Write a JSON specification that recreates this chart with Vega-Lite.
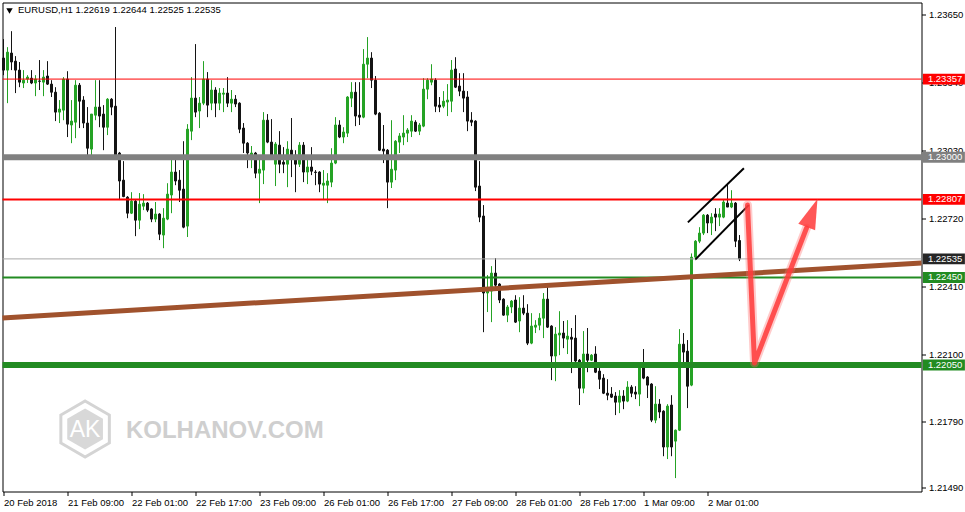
{
"$schema":"https://vega.github.io/schema/vega-lite/v6.json",
"width":919,"height":489,
"autosize":{"type":"none"},
"padding":{"left":2.5,"top":2.5,"right":43.5,"bottom":20.5},
"background":"white",
"config":{"view":{"stroke":"#000","strokeWidth":1},"font":"Liberation Sans"},
"datasets":{
"candles":[
{"i":0,"o":1.23453,"h":1.2354,"l":1.23375,"c":1.23398},
{"i":1,"o":1.23398,"h":1.23503,"l":1.23247,"c":1.2348},
{"i":2,"o":1.23476,"h":1.23576,"l":1.23398,"c":1.23435},
{"i":3,"o":1.23439,"h":1.23462,"l":1.23293,"c":1.23398},
{"i":4,"o":1.23398,"h":1.23435,"l":1.2332,"c":1.23343},
{"i":5,"o":1.23339,"h":1.23398,"l":1.23316,"c":1.23352},
{"i":6,"o":1.23357,"h":1.23375,"l":1.23339,"c":1.23366},
{"i":7,"o":1.23361,"h":1.23398,"l":1.23334,"c":1.23339},
{"i":8,"o":1.23339,"h":1.23375,"l":1.23279,"c":1.23357},
{"i":9,"o":1.23348,"h":1.23444,"l":1.23307,"c":1.23347},
{"i":10,"o":1.23343,"h":1.23398,"l":1.23279,"c":1.23366},
{"i":11,"o":1.23371,"h":1.23439,"l":1.2333,"c":1.23334},
{"i":12,"o":1.23334,"h":1.23352,"l":1.23275,"c":1.23297},
{"i":13,"o":1.23297,"h":1.2332,"l":1.23165,"c":1.23206},
{"i":14,"o":1.23206,"h":1.23261,"l":1.23156,"c":1.2322},
{"i":15,"o":1.23215,"h":1.23366,"l":1.23169,"c":1.23357},
{"i":16,"o":1.23357,"h":1.23393,"l":1.23092,"c":1.23151},
{"i":17,"o":1.23147,"h":1.23261,"l":1.23064,"c":1.23165},
{"i":18,"o":1.2316,"h":1.23352,"l":1.23087,"c":1.23329},
{"i":19,"o":1.23329,"h":1.23339,"l":1.23133,"c":1.23256},
{"i":20,"o":1.23261,"h":1.23279,"l":1.23133,"c":1.23156},
{"i":21,"o":1.23156,"h":1.23229,"l":1.23009,"c":1.23041},
{"i":22,"o":1.23037,"h":1.23197,"l":1.23009,"c":1.23197},
{"i":23,"o":1.23192,"h":1.23352,"l":1.23169,"c":1.23229},
{"i":24,"o":1.23229,"h":1.23352,"l":1.23137,"c":1.23188},
{"i":25,"o":1.23197,"h":1.23238,"l":1.23032,"c":1.23137},
{"i":26,"o":1.23137,"h":1.2327,"l":1.23101,"c":1.23265},
{"i":27,"o":1.23265,"h":1.2327,"l":1.23192,"c":1.23229},
{"i":28,"o":1.23233,"h":1.23595,"l":1.22987,"c":1.23009},
{"i":29,"o":1.23019,"h":1.23024,"l":1.22804,"c":1.22891},
{"i":30,"o":1.22895,"h":1.22982,"l":1.22817,"c":1.2282},
{"i":31,"o":1.22817,"h":1.22822,"l":1.22721,"c":1.22744},
{"i":32,"o":1.22744,"h":1.2284,"l":1.2274,"c":1.22799},
{"i":33,"o":1.22799,"h":1.22804,"l":1.22639,"c":1.22712},
{"i":34,"o":1.22712,"h":1.22836,"l":1.22671,"c":1.22785},
{"i":35,"o":1.22776,"h":1.22831,"l":1.22758,"c":1.2279},
{"i":36,"o":1.2279,"h":1.22795,"l":1.22749,"c":1.22758},
{"i":37,"o":1.22763,"h":1.22767,"l":1.22703,"c":1.22717},
{"i":38,"o":1.22717,"h":1.22795,"l":1.22703,"c":1.2274},
{"i":39,"o":1.2274,"h":1.22744,"l":1.22621,"c":1.22648},
{"i":40,"o":1.22644,"h":1.22767,"l":1.22584,"c":1.22721},
{"i":41,"o":1.22717,"h":1.22881,"l":1.22712,"c":1.22831},
{"i":42,"o":1.22827,"h":1.22987,"l":1.22744,"c":1.22932},
{"i":43,"o":1.22932,"h":1.22987,"l":1.22872,"c":1.22891},
{"i":44,"o":1.22895,"h":1.22941,"l":1.22795,"c":1.22849},
{"i":45,"o":1.22854,"h":1.23073,"l":1.22675,"c":1.2268},
{"i":46,"o":1.22685,"h":1.23151,"l":1.22635,"c":1.23128},
{"i":47,"o":1.23119,"h":1.23366,"l":1.23078,"c":1.2327},
{"i":48,"o":1.2327,"h":1.23517,"l":1.23183,"c":1.23206},
{"i":49,"o":1.23211,"h":1.23275,"l":1.23133,"c":1.23247},
{"i":50,"o":1.23247,"h":1.23439,"l":1.23238,"c":1.23357},
{"i":51,"o":1.23357,"h":1.23389,"l":1.23183,"c":1.23238},
{"i":52,"o":1.23247,"h":1.23352,"l":1.23215,"c":1.23307},
{"i":53,"o":1.23307,"h":1.2332,"l":1.23183,"c":1.23247},
{"i":54,"o":1.23247,"h":1.23316,"l":1.23215,"c":1.23293},
{"i":55,"o":1.23288,"h":1.23316,"l":1.23206,"c":1.23293},
{"i":56,"o":1.23293,"h":1.23366,"l":1.23229,"c":1.23247},
{"i":57,"o":1.23247,"h":1.23307,"l":1.23206,"c":1.23265},
{"i":58,"o":1.23265,"h":1.23284,"l":1.23229,"c":1.23243},
{"i":59,"o":1.23247,"h":1.23251,"l":1.2311,"c":1.23128},
{"i":60,"o":1.23133,"h":1.23156,"l":1.23019,"c":1.23064},
{"i":61,"o":1.23064,"h":1.23069,"l":1.2295,"c":1.23019},
{"i":62,"o":1.23009,"h":1.23051,"l":1.2295,"c":1.23019},
{"i":63,"o":1.23019,"h":1.23024,"l":1.22904,"c":1.22927},
{"i":64,"o":1.22927,"h":1.22996,"l":1.2279,"c":1.22945},
{"i":65,"o":1.22941,"h":1.23206,"l":1.22877,"c":1.23169},
{"i":66,"o":1.23169,"h":1.23197,"l":1.23064,"c":1.23069},
{"i":67,"o":1.23069,"h":1.23174,"l":1.23,"c":1.23009},
{"i":68,"o":1.22968,"h":1.23069,"l":1.22868,"c":1.2306},
{"i":69,"o":1.23055,"h":1.23119,"l":1.22927,"c":1.22968},
{"i":70,"o":1.22977,"h":1.23046,"l":1.22927,"c":1.22968},
{"i":71,"o":1.22968,"h":1.23073,"l":1.22863,"c":1.23037},
{"i":72,"o":1.23032,"h":1.23179,"l":1.22909,"c":1.23009},
{"i":73,"o":1.23009,"h":1.23032,"l":1.2284,"c":1.22968},
{"i":74,"o":1.22968,"h":1.23069,"l":1.22955,"c":1.23055},
{"i":75,"o":1.23055,"h":1.23069,"l":1.22886,"c":1.22932},
{"i":76,"o":1.22932,"h":1.22987,"l":1.22877,"c":1.22955},
{"i":77,"o":1.22955,"h":1.23046,"l":1.22918,"c":1.22936},
{"i":78,"o":1.22932,"h":1.22941,"l":1.22872,"c":1.2293},
{"i":79,"o":1.22932,"h":1.22936,"l":1.2284,"c":1.22877},
{"i":80,"o":1.22872,"h":1.22941,"l":1.22804,"c":1.22881},
{"i":81,"o":1.22872,"h":1.22927,"l":1.2279,"c":1.22891},
{"i":82,"o":1.22886,"h":1.23041,"l":1.22863,"c":1.22973},
{"i":83,"o":1.22973,"h":1.23183,"l":1.22968,"c":1.23147},
{"i":84,"o":1.23147,"h":1.23169,"l":1.23087,"c":1.23092},
{"i":85,"o":1.23092,"h":1.23137,"l":1.23064,"c":1.23115},
{"i":86,"o":1.2311,"h":1.23279,"l":1.23092,"c":1.23275},
{"i":87,"o":1.2327,"h":1.23343,"l":1.23229,"c":1.23297},
{"i":88,"o":1.23297,"h":1.23343,"l":1.23142,"c":1.23188},
{"i":89,"o":1.23192,"h":1.23343,"l":1.23147,"c":1.23183},
{"i":90,"o":1.23183,"h":1.23494,"l":1.23178,"c":1.23425},
{"i":91,"o":1.23425,"h":1.23549,"l":1.23361,"c":1.23453},
{"i":92,"o":1.23453,"h":1.2348,"l":1.23316,"c":1.23352},
{"i":93,"o":1.23352,"h":1.23371,"l":1.23192,"c":1.23197},
{"i":94,"o":1.23201,"h":1.23206,"l":1.23028,"c":1.23032},
{"i":95,"o":1.23037,"h":1.23147,"l":1.22973,"c":1.23028},
{"i":96,"o":1.23032,"h":1.23037,"l":1.22767,"c":1.22886},
{"i":97,"o":1.22886,"h":1.23169,"l":1.22859,"c":1.22945},
{"i":98,"o":1.22941,"h":1.23078,"l":1.22895,"c":1.23073},
{"i":99,"o":1.23069,"h":1.2311,"l":1.23019,"c":1.23097},
{"i":100,"o":1.23092,"h":1.23192,"l":1.23055,"c":1.2311},
{"i":101,"o":1.2311,"h":1.23133,"l":1.23069,"c":1.23124},
{"i":102,"o":1.23119,"h":1.23192,"l":1.23092,"c":1.23165},
{"i":103,"o":1.2316,"h":1.23169,"l":1.23115,"c":1.23119},
{"i":104,"o":1.23119,"h":1.23156,"l":1.23101,"c":1.23147},
{"i":105,"o":1.23142,"h":1.23361,"l":1.23137,"c":1.23311},
{"i":106,"o":1.23311,"h":1.23361,"l":1.23265,"c":1.23352},
{"i":107,"o":1.23343,"h":1.23425,"l":1.23329,"c":1.23357},
{"i":108,"o":1.23352,"h":1.23361,"l":1.23206,"c":1.23233},
{"i":109,"o":1.23238,"h":1.23275,"l":1.23206,"c":1.23229},
{"i":110,"o":1.23233,"h":1.23302,"l":1.23224,"c":1.23256},
{"i":111,"o":1.23252,"h":1.23334,"l":1.23188,"c":1.23261},
{"i":112,"o":1.23256,"h":1.23444,"l":1.23206,"c":1.23398},
{"i":113,"o":1.23403,"h":1.23457,"l":1.23316,"c":1.2332},
{"i":114,"o":1.23325,"h":1.23384,"l":1.23279,"c":1.23302},
{"i":115,"o":1.23302,"h":1.23384,"l":1.23206,"c":1.2327},
{"i":116,"o":1.23275,"h":1.23302,"l":1.23119,"c":1.23165},
{"i":117,"o":1.23169,"h":1.23206,"l":1.23142,"c":1.2316},
{"i":118,"o":1.23165,"h":1.23169,"l":1.22845,"c":1.22863},
{"i":119,"o":1.22868,"h":1.22982,"l":1.22703,"c":1.22726},
{"i":120,"o":1.22731,"h":1.22781,"l":1.222,"c":1.22379},
{"i":121,"o":1.22379,"h":1.22461,"l":1.22292,"c":1.22392},
{"i":122,"o":1.22388,"h":1.22502,"l":1.22246,"c":1.2247},
{"i":123,"o":1.2247,"h":1.22539,"l":1.22406,"c":1.22415},
{"i":124,"o":1.2242,"h":1.22424,"l":1.22333,"c":1.22347},
{"i":125,"o":1.22351,"h":1.22355,"l":1.22275,"c":1.22278},
{"i":126,"o":1.22278,"h":1.22324,"l":1.22246,"c":1.22315},
{"i":127,"o":1.22315,"h":1.22347,"l":1.22287,"c":1.22342},
{"i":128,"o":1.22347,"h":1.22369,"l":1.22242,"c":1.22246},
{"i":129,"o":1.22251,"h":1.2236,"l":1.222,"c":1.2231},
{"i":130,"o":1.2231,"h":1.22369,"l":1.22278,"c":1.22287},
{"i":131,"o":1.22287,"h":1.22328,"l":1.22141,"c":1.2215},
{"i":132,"o":1.2215,"h":1.22287,"l":1.22145,"c":1.22228},
{"i":133,"o":1.22223,"h":1.22255,"l":1.22196,"c":1.22232},
{"i":134,"o":1.22232,"h":1.22287,"l":1.22209,"c":1.22264},
{"i":135,"o":1.22264,"h":1.22379,"l":1.22173,"c":1.22351},
{"i":136,"o":1.22351,"h":1.22406,"l":1.22219,"c":1.22223},
{"i":137,"o":1.22228,"h":1.22232,"l":1.21981,"c":1.22091},
{"i":138,"o":1.22091,"h":1.22223,"l":1.21976,"c":1.22191},
{"i":139,"o":1.22187,"h":1.22296,"l":1.22095,"c":1.22196},
{"i":140,"o":1.22196,"h":1.22251,"l":1.22127,"c":1.22173},
{"i":141,"o":1.22168,"h":1.22255,"l":1.221,"c":1.22182},
{"i":142,"o":1.22177,"h":1.22219,"l":1.22013,"c":1.22168},
{"i":143,"o":1.22173,"h":1.22278,"l":1.22063,"c":1.22068},
{"i":144,"o":1.22072,"h":1.22077,"l":1.21867,"c":1.21944},
{"i":145,"o":1.21944,"h":1.22205,"l":1.21921,"c":1.221},
{"i":146,"o":1.221,"h":1.22219,"l":1.22017,"c":1.22072},
{"i":147,"o":1.22072,"h":1.221,"l":1.22068,"c":1.22095},
{"i":148,"o":1.221,"h":1.22136,"l":1.22013,"c":1.22017},
{"i":149,"o":1.22022,"h":1.22049,"l":1.2194,"c":1.21985},
{"i":150,"o":1.2199,"h":1.22008,"l":1.21917,"c":1.21921},
{"i":151,"o":1.21921,"h":1.21985,"l":1.21889,"c":1.21912},
{"i":152,"o":1.21917,"h":1.21949,"l":1.21899,"c":1.21903},
{"i":153,"o":1.21908,"h":1.21926,"l":1.21821,"c":1.2188},
{"i":154,"o":1.2188,"h":1.21935,"l":1.2183,"c":1.21908},
{"i":155,"o":1.21908,"h":1.21935,"l":1.21848,"c":1.21885},
{"i":156,"o":1.21885,"h":1.21976,"l":1.2188,"c":1.21949},
{"i":157,"o":1.21949,"h":1.21958,"l":1.21903,"c":1.21921},
{"i":158,"o":1.21926,"h":1.21953,"l":1.21894,"c":1.21917},
{"i":159,"o":1.21917,"h":1.22059,"l":1.21862,"c":1.22045},
{"i":160,"o":1.2204,"h":1.22123,"l":1.21985,"c":1.2199},
{"i":161,"o":1.21995,"h":1.21999,"l":1.21899,"c":1.21958},
{"i":162,"o":1.21963,"h":1.21967,"l":1.21789,"c":1.21798},
{"i":163,"o":1.21798,"h":1.21953,"l":1.21784,"c":1.21871},
{"i":164,"o":1.21871,"h":1.21894,"l":1.21807,"c":1.21835},
{"i":165,"o":1.21839,"h":1.21843,"l":1.21633,"c":1.21675},
{"i":166,"o":1.21675,"h":1.21871,"l":1.2162,"c":1.21862},
{"i":167,"o":1.21867,"h":1.21912,"l":1.21633,"c":1.21675},
{"i":168,"o":1.21702,"h":1.21755,"l":1.21533,"c":1.21752},
{"i":169,"o":1.21752,"h":1.22214,"l":1.21748,"c":1.22145},
{"i":170,"o":1.22145,"h":1.22196,"l":1.2204,"c":1.22109},
{"i":171,"o":1.22113,"h":1.22164,"l":1.21853,"c":1.21953},
{"i":172,"o":1.21958,"h":1.2256,"l":1.21953,"c":1.22543},
{"i":173,"o":1.22543,"h":1.22621,"l":1.22529,"c":1.22616},
{"i":174,"o":1.22616,"h":1.2268,"l":1.22607,"c":1.22653},
{"i":175,"o":1.22653,"h":1.2274,"l":1.22644,"c":1.22735},
{"i":176,"o":1.22735,"h":1.2274,"l":1.22653,"c":1.22699},
{"i":177,"o":1.22699,"h":1.22744,"l":1.22644,"c":1.22726},
{"i":178,"o":1.2274,"h":1.22767,"l":1.22662,"c":1.22726},
{"i":179,"o":1.22726,"h":1.22767,"l":1.22685,"c":1.2274},
{"i":180,"o":1.22726,"h":1.22808,"l":1.22721,"c":1.22795},
{"i":181,"o":1.2279,"h":1.22881,"l":1.22772,"c":1.22772},
{"i":182,"o":1.22772,"h":1.22849,"l":1.22767,"c":1.2279},
{"i":183,"o":1.2279,"h":1.22795,"l":1.22589,"c":1.22616},
{"i":184,"o":1.22619,"h":1.22644,"l":1.22525,"c":1.22535}
],
"levels":[
{"name":"r2","p":1.23357},
{"name":"s0","p":1.23},
{"name":"r1","p":1.22807},
{"name":"cur","p":1.22535},
{"name":"s1","p":1.2245},
{"name":"s2","p":1.2205}
],
"trend":[{"i":-0.25,"p":1.22265},{"i":229.5,"p":1.22516}],
"channel":[{"g":"upper","i":171.1,"p":1.22702},{"g":"upper","i":185.1,"p":1.22949},{"g":"lower","i":173.0,"p":1.22533},{"g":"lower","i":186.3,"p":1.22781}],
"arrow":[{"k":0,"i":186,"p":1.22781},{"k":1,"i":187.75,"p":1.22059},{"k":2,"i":200.75,"p":1.22676}],
"arrowhead":[{"i":202.15,"p":1.22745}]
},
"layer":[
{"data":{"name":"candles"},"mark":{"type":"rule","strokeWidth":1},
"encoding":{
"x":{"field":"i","type":"quantitative","title":null,"scale":{"domain":[-0.25,229.5],"nice":false,"zero":false,"padding":0},
"axis":{"values":[0,16,32,48,64,80,96,112,128,144,160,176],
"labelExpr":"['20 Feb 2018','21 Feb 09:00','22 Feb 01:00','22 Feb 17:00','23 Feb 09:00','26 Feb 01:00','26 Feb 17:00','27 Feb 09:00','28 Feb 01:00','28 Feb 17:00','1 Mar 09:00','2 Mar 01:00'][round(datum.value/16)]",
"labelAlign":"left","labelFontSize":9.5,"labelColor":"#000","tickColor":"#000","tickSize":4,"labelPadding":2,"domain":false,"grid":false,"title":null,"labelFlush":false,"labelOverlap":false}},
"y":{"field":"l","type":"quantitative","title":null,"scale":{"domain":[1.2147169,1.237071],"nice":false,"zero":false,"padding":0},
"axis":{"orient":"right","values":[1.2365,1.23495,1.2334,1.23185,1.2303,1.22875,1.2272,1.22565,1.2241,1.22255,1.221,1.21945,1.2179,1.2164,1.2149],
"format":".5f","labelFontSize":9.5,"labelColor":"#000","tickColor":"#000","tickSize":4,"labelPadding":3,"domain":false,"grid":false,"title":null,"labelOverlap":false,"labelFlush":false}},
"y2":{"field":"h"},
"color":{"condition":{"test":"datum.c >= datum.o","value":"#25a325"},"value":"#141414"}}},
{"data":{"values":[{"n":1}]},"mark":{"type":"point","shape":"M0,-1L0.866,-0.5L0.866,0.5L0,1L-0.866,0.5L-0.866,-0.5Z","size":3136,"filled":false,"stroke":"#d4d4d4","strokeWidth":3,"opacity":1},
"encoding":{"x":{"datum":20.4,"type":"quantitative","title":null},"y":{"datum":1.217574,"type":"quantitative","title":null}}},
{"data":{"values":[{"n":1}]},"mark":{"type":"point","shape":"M0,-1L0.866,-0.5L0.866,0.5L0,1L-0.866,0.5L-0.866,-0.5Z","size":1700,"filled":true,"fill":"#d8d8d8","opacity":1,"strokeWidth":0},
"encoding":{"x":{"datum":20.4,"type":"quantitative","title":null},"y":{"datum":1.217574,"type":"quantitative","title":null}}},
{"data":{"values":[{"n":1}]},"mark":{"type":"text","text":"AK","font":"Liberation Sans","fontSize":23,"color":"white","align":"center","baseline":"middle"},
"encoding":{"x":{"datum":20.4,"type":"quantitative","title":null},"y":{"datum":1.21753,"type":"quantitative","title":null}}},
{"data":{"values":[{"n":1}]},"mark":{"type":"text","text":"KOLHANOV.COM","font":"Liberation Sans","fontWeight":"bold","fontSize":24,"color":"#cfcfcf","align":"left","baseline":"alphabetic"},
"encoding":{"x":{"datum":30.6,"type":"quantitative","title":null},"y":{"datum":1.217163,"type":"quantitative","title":null}}},
{"data":{"name":"candles"},"mark":{"type":"bar","orient":"vertical","size":2,"strokeWidth":1},
"encoding":{"x":{"field":"i","type":"quantitative","title":null},"y":{"field":"o","type":"quantitative","title":null},"y2":{"field":"c"},
"fill":{"condition":{"test":"datum.c >= datum.o","value":"#25a325"},"value":"#141414"},
"stroke":{"condition":{"test":"datum.c >= datum.o","value":"#25a325"},"value":"#141414"}}},
{"data":{"name":"levels"},"transform":[{"filter":{"field":"name","oneOf":["r2","cur"]}}],"mark":{"type":"rule","strokeWidth":1},
"encoding":{"y":{"field":"p","type":"quantitative","title":null},"stroke":{"field":"name","type":"nominal","legend":null,"scale":{"domain":["r2","s0","r1","cur","s1","s2"],"range":["#ff0000","#808080","#ff0000","#a8a8a8","#228b22","#228b22"]}}}},
{"data":{"name":"levels"},"transform":[{"filter":{"field":"name","oneOf":["r1","s1"]}}],"mark":{"type":"rule","strokeWidth":2},
"encoding":{"y":{"field":"p","type":"quantitative","title":null},"stroke":{"field":"name","type":"nominal","legend":null}}},
{"data":{"name":"levels"},"transform":[{"filter":{"field":"name","oneOf":["s0","s2"]}}],"mark":{"type":"rule","strokeWidth":6},
"encoding":{"y":{"field":"p","type":"quantitative","title":null},"stroke":{"field":"name","type":"nominal","legend":null}}},
{"data":{"name":"trend"},"mark":{"type":"line","color":"#a0522d","strokeWidth":5,"strokeCap":"butt"},
"encoding":{"x":{"field":"i","type":"quantitative","title":null},"y":{"field":"p","type":"quantitative","title":null}}},
{"data":{"name":"channel"},"mark":{"type":"line","color":"#000","strokeWidth":2},
"encoding":{"x":{"field":"i","type":"quantitative","title":null},"y":{"field":"p","type":"quantitative","title":null},"detail":{"field":"g"}}},
{"data":{"name":"arrow"},"mark":{"type":"line","color":"#ff6a6a","strokeWidth":9,"opacity":0.35,"strokeJoin":"round","strokeCap":"round"},
"encoding":{"x":{"field":"i","type":"quantitative","title":null},"y":{"field":"p","type":"quantitative","title":null},"order":{"field":"k"}}},
{"data":{"name":"arrow"},"mark":{"type":"line","color":"#ff3a3a","strokeWidth":5,"opacity":0.85,"strokeJoin":"round","strokeCap":"round"},
"encoding":{"x":{"field":"i","type":"quantitative","title":null},"y":{"field":"p","type":"quantitative","title":null},"order":{"field":"k"}}},
{"data":{"name":"arrowhead"},"mark":{"type":"point","shape":"M0,-1L0.6,1L-0.6,1Z","size":900,"filled":true,"color":"#ff3a3a","opacity":0.85,"angle":21,"strokeWidth":0},
"encoding":{"x":{"field":"i","type":"quantitative","title":null},"y":{"field":"p","type":"quantitative","title":null}}},
{"data":{"name":"levels"},"mark":{"type":"point","shape":"M-1,-0.26L1,-0.26L1,0.26L-1,0.26Z","size":1764,"filled":true,"opacity":1,"strokeWidth":0},
"encoding":{"x":{"datum":235.1,"type":"quantitative","title":null},"y":{"field":"p","type":"quantitative","title":null},"fill":{"field":"name","type":"nominal","legend":null,"scale":{"domain":["r2","s0","r1","cur","s1","s2"],"range":["#ff0000","#808080","#ff0000","#262626","#228b22","#228b22"]}}}},
{"data":{"name":"levels"},"mark":{"type":"text","font":"Liberation Sans","fontSize":9.5,"color":"white","align":"left","baseline":"middle"},
"encoding":{"x":{"datum":231.1,"type":"quantitative","title":null},"y":{"field":"p","type":"quantitative","title":null},"text":{"field":"p","type":"quantitative","format":".5f"}}},
{"data":{"values":[{"n":1}]},"mark":{"type":"point","shape":"triangle-down","size":40,"filled":true,"color":"#000","opacity":1},
"encoding":{"x":{"datum":1.5,"type":"quantitative","title":null},"y":{"datum":1.23668,"type":"quantitative","title":null}}},
{"data":{"values":[{"n":1}]},"mark":{"type":"text","text":"EURUSD,H1  1.22619 1.22644 1.22525 1.22535","font":"Liberation Sans","fontSize":9.5,"color":"#000","align":"left","baseline":"middle"},
"encoding":{"x":{"datum":3.625,"type":"quantitative","title":null},"y":{"datum":1.23673,"type":"quantitative","title":null}}}
]
}
